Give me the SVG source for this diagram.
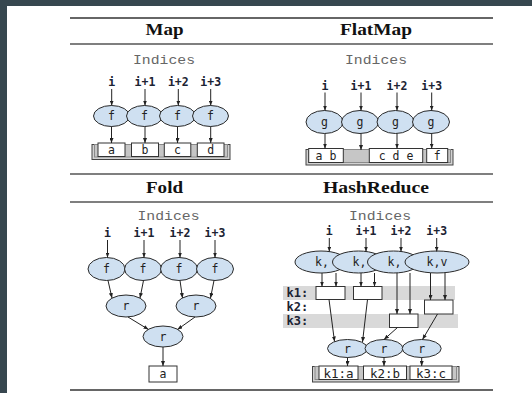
<svg xmlns="http://www.w3.org/2000/svg" width="532" height="393" viewBox="0 0 532 393">
  <defs>
    <marker id="ah" viewBox="0 0 10 8" refX="10" refY="4" markerWidth="5" markerHeight="4" orient="auto" markerUnits="userSpaceOnUse">
      <path d="M0,0 L10,4 L0,8 z" fill="#222"/>
    </marker>
    <style>
      .title { font-family: "Liberation Serif", "Times New Roman", serif; font-weight: bold; font-size: 16px; fill: #111; text-anchor: middle; }
      .idx { font-family: "Liberation Mono", "Courier New", monospace; font-size: 13.5px; fill: #666; text-anchor: middle; }
      .lbl { font-family: "DejaVu Sans Mono", monospace; font-weight: bold; font-size: 11.5px; fill: #1c2333; text-anchor: middle; }
      .klbl { font-family: "DejaVu Sans Mono", monospace; font-weight: bold; font-size: 12px; fill: #1c2333; }
      .op { font-family: "DejaVu Sans Mono", monospace; font-size: 11.5px; fill: #222; text-anchor: middle; }
      .val { font-family: "DejaVu Sans Mono", monospace; font-size: 11.5px; fill: #222; text-anchor: middle; }
      .kval { font-family: "DejaVu Sans Mono", monospace; font-size: 12.5px; fill: #222; text-anchor: middle; }
      .rule { stroke: #555; stroke-width: 1.3; }
      .node { fill: #cfe0f1; stroke: #2a2a2a; stroke-width: 1; }
      .box { fill: #fff; stroke: #333; stroke-width: 1; }
      .tray { fill: #d2d2d2; stroke: #444; stroke-width: 1; }
      .tray-in { fill: #c6c6c6; stroke: #8a8a8a; stroke-width: 1; }
      .band { fill: #d9d9d9; }
      .edge { stroke: #222; stroke-width: 1; fill: none; marker-end: url(#ah); }
    </style>
  </defs>

  <!-- page frame -->
  <rect x="0" y="0" width="532" height="393" fill="#fff"/>
  <rect x="0" y="0" width="532" height="6" fill="#37474f"/>
  <rect x="0" y="0" width="7" height="393" fill="#37474f"/>

  <!-- table rules -->
  <g id="rules">
    <line class="rule" x1="70" y1="18" x2="493" y2="18" style="stroke:#333"/>
    <line class="rule" x1="70" y1="44" x2="493" y2="44"/>
    <line class="rule" x1="70" y1="174" x2="493" y2="174"/>
    <line class="rule" x1="70" y1="202" x2="493" y2="202"/>
    <line class="rule" x1="70" y1="390" x2="493" y2="390" style="stroke:#333"/>
  </g>

  <!-- column headings -->
  <g id="headings">
    <text class="title" x="164.5" y="35" textLength="38" lengthAdjust="spacingAndGlyphs">Map</text>
    <text class="title" x="376" y="35" textLength="72" lengthAdjust="spacingAndGlyphs">FlatMap</text>
    <text class="title" x="164.5" y="193" textLength="37" lengthAdjust="spacingAndGlyphs">Fold</text>
    <text class="title" x="376" y="193" textLength="106" lengthAdjust="spacingAndGlyphs">HashReduce</text>
  </g>

  <!-- index captions -->
  <g id="indices">
    <text class="idx" x="164" y="64" textLength="62" lengthAdjust="spacingAndGlyphs">Indices</text>
    <text class="idx" x="376" y="64" textLength="62" lengthAdjust="spacingAndGlyphs">Indices</text>
    <text class="idx" x="168.5" y="220" textLength="62" lengthAdjust="spacingAndGlyphs">Indices</text>
    <text class="idx" x="380" y="220" textLength="62" lengthAdjust="spacingAndGlyphs">Indices</text>
  </g>

  <!-- ===== Map ===== -->
  <g id="map-labels">
    <text class="lbl" x="111.7" y="86">i</text>
    <text class="lbl" x="145" y="86">i+1</text>
    <text class="lbl" x="178.3" y="86">i+2</text>
    <text class="lbl" x="210.7" y="86">i+3</text>
  </g>
  <g id="map-f1"><ellipse class="node" cx="111.5" cy="116" rx="18" ry="10.5"/><text class="op" x="111.5" y="120">f</text></g>
  <g id="map-f2"><ellipse class="node" cx="144.5" cy="116" rx="18" ry="10.5"/><text class="op" x="144.5" y="120">f</text></g>
  <g id="map-f3"><ellipse class="node" cx="177.5" cy="116" rx="18" ry="10.5"/><text class="op" x="177.5" y="120">f</text></g>
  <g id="map-f4"><ellipse class="node" cx="210.5" cy="116" rx="18" ry="10.5"/><text class="op" x="210.5" y="120">f</text></g>
  <g id="map-out">
    <rect class="tray" x="92" y="144.5" width="138" height="15"/>
    <rect class="tray-in" x="94.5" y="144.5" width="133" height="12.5"/>
    <rect class="box" x="98" y="143" width="27" height="13.5"/><text class="val" x="111.5" y="153.5">a</text>
    <rect class="box" x="131.5" y="143" width="27" height="13.5"/><text class="val" x="145" y="153.5">b</text>
    <rect class="box" x="164.3" y="143" width="26.5" height="13.5"/><text class="val" x="177.5" y="153.5">c</text>
    <rect class="box" x="197.3" y="143" width="26.7" height="13.5"/><text class="val" x="210.7" y="153.5">d</text>
  </g>

  <!-- ===== FlatMap ===== -->
  <g id="flatmap-labels">
    <text class="lbl" x="325" y="89.5">i</text>
    <text class="lbl" x="361" y="89.5">i+1</text>
    <text class="lbl" x="397" y="89.5">i+2</text>
    <text class="lbl" x="431.7" y="89.5">i+3</text>
  </g>
  <g id="flatmap-g1"><ellipse class="node" cx="324.5" cy="122" rx="18.5" ry="11.5"/><text class="op" x="324.5" y="126">g</text></g>
  <g id="flatmap-g2"><ellipse class="node" cx="360" cy="122" rx="18.5" ry="11.5"/><text class="op" x="360" y="126">g</text></g>
  <g id="flatmap-g3"><ellipse class="node" cx="395.5" cy="122" rx="18.5" ry="11.5"/><text class="op" x="395.5" y="126">g</text></g>
  <g id="flatmap-g4"><ellipse class="node" cx="431" cy="122" rx="18.5" ry="11.5"/><text class="op" x="431" y="126">g</text></g>
  <g id="flatmap-out">
    <rect class="tray" x="306" y="149.5" width="147" height="15.5"/>
    <rect class="tray-in" x="308.5" y="149.5" width="142" height="13"/>
    <rect class="box" x="308.7" y="148.5" width="34.6" height="14"/><text class="val" x="326" y="159.5" xml:space="preserve">a b</text>
    <rect class="box" x="369.3" y="148.5" width="53.4" height="14"/><text class="val" x="396" y="159.5" xml:space="preserve">c d e</text>
    <rect class="box" x="426.7" y="148.5" width="21" height="14"/><text class="val" x="437.2" y="159.5">f</text>
  </g>

  <!-- ===== Fold ===== -->
  <g id="fold-labels">
    <text class="lbl" x="107.5" y="236.5">i</text>
    <text class="lbl" x="144" y="236.5">i+1</text>
    <text class="lbl" x="180" y="236.5">i+2</text>
    <text class="lbl" x="215" y="236.5">i+3</text>
  </g>
  <g id="fold-f1"><ellipse class="node" cx="106.5" cy="269" rx="18.5" ry="11.5"/><text class="op" x="106.5" y="273">f</text></g>
  <g id="fold-f2"><ellipse class="node" cx="143" cy="269" rx="18.5" ry="11.5"/><text class="op" x="143" y="273">f</text></g>
  <g id="fold-f3"><ellipse class="node" cx="179" cy="269" rx="18.5" ry="11.5"/><text class="op" x="179" y="273">f</text></g>
  <g id="fold-f4"><ellipse class="node" cx="215" cy="269" rx="18.5" ry="11.5"/><text class="op" x="215" y="273">f</text></g>
  <g id="fold-r1"><ellipse class="node" cx="126" cy="306" rx="20" ry="11"/><text class="op" x="126" y="310">r</text></g>
  <g id="fold-r2"><ellipse class="node" cx="196" cy="306" rx="20" ry="11"/><text class="op" x="196" y="310">r</text></g>
  <g id="fold-r3"><ellipse class="node" cx="163" cy="336.5" rx="20" ry="10.5"/><text class="op" x="163" y="340.5">r</text></g>
  <g id="fold-out"><rect class="box" x="149" y="366" width="28" height="16"/><text class="val" x="163" y="378">a</text></g>

  <!-- ===== HashReduce ===== -->
  <g id="hash-bands">
    <rect class="band" x="283" y="286" width="172" height="14"/>
    <rect class="band" x="283" y="314" width="175" height="14"/>
    <text class="klbl" x="286.5" y="297">k1:</text>
    <text class="klbl" x="286.5" y="311">k2:</text>
    <text class="klbl" x="286.5" y="325">k3:</text>
  </g>
  <g id="hash-labels">
    <text class="lbl" x="329.3" y="235">i</text>
    <text class="lbl" x="366" y="235">i+1</text>
    <text class="lbl" x="401" y="235">i+2</text>
    <text class="lbl" x="436.7" y="235">i+3</text>
  </g>
  <g id="hash-kv1"><ellipse class="node" cx="321" cy="262" rx="26" ry="11"/><text class="op" x="315" y="266" style="text-anchor:start">k,</text></g>
  <g id="hash-kv2"><ellipse class="node" cx="358.5" cy="262" rx="26" ry="11"/><text class="op" x="352.5" y="266" style="text-anchor:start">k,</text></g>
  <g id="hash-kv3"><ellipse class="node" cx="393.5" cy="262" rx="26" ry="11"/><text class="op" x="387.5" y="266" style="text-anchor:start">k,</text></g>
  <g id="hash-kv4"><ellipse class="node" cx="437" cy="262" rx="32" ry="11"/><text class="op" x="437" y="266">k,v</text></g>
  <g id="hash-k1a"><rect class="box" x="316" y="286.5" width="29" height="13"/></g>
  <g id="hash-k1b"><rect class="box" x="353.5" y="286.5" width="28.5" height="13"/></g>
  <g id="hash-k2"><rect class="box" x="424.5" y="300" width="28.5" height="14"/></g>
  <g id="hash-k3"><rect class="box" x="389.5" y="314" width="28.5" height="13.5"/></g>
  <g id="hash-r1"><ellipse class="node" cx="347.5" cy="348.5" rx="20" ry="9"/><text class="op" x="347.5" y="352.5">r</text></g>
  <g id="hash-r2"><ellipse class="node" cx="384" cy="348.5" rx="19" ry="9"/><text class="op" x="384" y="352.5">r</text></g>
  <g id="hash-r3"><ellipse class="node" cx="421.7" cy="348.5" rx="19.5" ry="9"/><text class="op" x="421.7" y="352.5">r</text></g>
  <g id="hash-out">
    <rect class="tray" x="312.5" y="366.5" width="146.5" height="15.5"/>
    <rect class="tray-in" x="315" y="366.5" width="141.5" height="13"/>
    <rect class="box" x="319" y="366" width="39" height="13.5"/><text class="kval" x="338.5" y="377.5">k1:a</text>
    <rect class="box" x="363.5" y="366" width="43" height="13.5"/><text class="kval" x="385" y="377.5">k2:b</text>
    <rect class="box" x="410" y="366" width="42" height="13.5"/><text class="kval" x="431" y="377.5">k3:c</text>
  </g>

  <!-- connectors -->
  <g id="connectors">
    <!-- Map -->
    <line class="edge" x1="111.7" y1="89" x2="111.7" y2="105.5"/>
    <line class="edge" x1="145" y1="89" x2="145" y2="105.5"/>
    <line class="edge" x1="178.3" y1="89" x2="178.3" y2="105.5"/>
    <line class="edge" x1="210.7" y1="89" x2="210.7" y2="105.5"/>
    <line class="edge" x1="111.5" y1="126.5" x2="111.5" y2="143"/>
    <line class="edge" x1="145" y1="126.5" x2="145" y2="143"/>
    <line class="edge" x1="177.5" y1="126.5" x2="177.5" y2="143"/>
    <line class="edge" x1="210.7" y1="126.5" x2="210.7" y2="143"/>
    <!-- FlatMap -->
    <line class="edge" x1="325" y1="92.5" x2="325" y2="110.5"/>
    <line class="edge" x1="361" y1="92.5" x2="361" y2="110.5"/>
    <line class="edge" x1="397" y1="92.5" x2="397" y2="110.5"/>
    <line class="edge" x1="431.7" y1="92.5" x2="431.7" y2="110.5"/>
    <line class="edge" x1="325" y1="133.5" x2="325" y2="148.5"/>
    <line class="edge" x1="361" y1="133.5" x2="361" y2="150"/>
    <line class="edge" x1="397" y1="133.5" x2="397" y2="148.5"/>
    <line class="edge" x1="431.7" y1="133.5" x2="431.7" y2="148.5"/>
    <!-- Fold -->
    <line class="edge" x1="107.5" y1="240" x2="107.5" y2="257.5"/>
    <line class="edge" x1="144" y1="240" x2="144" y2="257.5"/>
    <line class="edge" x1="180" y1="240" x2="180" y2="257.5"/>
    <line class="edge" x1="215" y1="240" x2="215" y2="257.5"/>
    <line class="edge" x1="108" y1="280.5" x2="112" y2="298"/>
    <line class="edge" x1="143.5" y1="280.5" x2="140" y2="298"/>
    <line class="edge" x1="180" y1="280.5" x2="182.5" y2="298"/>
    <line class="edge" x1="214" y1="280.5" x2="210.5" y2="298"/>
    <line class="edge" x1="128" y1="317" x2="148.5" y2="329.5"/>
    <line class="edge" x1="195" y1="317" x2="177.5" y2="329.5"/>
    <line class="edge" x1="163" y1="347" x2="163" y2="366"/>
    <!-- HashReduce -->
    <line class="edge" x1="329.3" y1="238" x2="329.3" y2="251.5"/>
    <line class="edge" x1="366" y1="238" x2="366" y2="251.5"/>
    <line class="edge" x1="401" y1="238" x2="401" y2="251.5"/>
    <line class="edge" x1="436.7" y1="238" x2="436.7" y2="251.5"/>
    <line class="edge" x1="322" y1="273" x2="322" y2="286.5"/>
    <line class="edge" x1="336" y1="273" x2="336" y2="286.5"/>
    <line class="edge" x1="361" y1="273" x2="361" y2="286.5"/>
    <line class="edge" x1="374.5" y1="273" x2="374.5" y2="286.5"/>
    <line class="edge" x1="397" y1="273" x2="397" y2="314"/>
    <line class="edge" x1="410" y1="273" x2="410" y2="314"/>
    <line class="edge" x1="430.5" y1="273" x2="430.5" y2="300"/>
    <line class="edge" x1="445" y1="273" x2="445" y2="300"/>
    <line class="edge" x1="329" y1="299.5" x2="334.5" y2="341.5"/>
    <line class="edge" x1="367.5" y1="299.5" x2="362.5" y2="342"/>
    <line class="edge" x1="397.5" y1="327.5" x2="384" y2="339.5"/>
    <line class="edge" x1="437.5" y1="314" x2="422.5" y2="339.5"/>
    <line class="edge" x1="347.5" y1="357.5" x2="347.5" y2="366"/>
    <line class="edge" x1="384" y1="357.5" x2="384" y2="366"/>
    <line class="edge" x1="421.7" y1="357.5" x2="421.7" y2="366"/>
  </g>
</svg>
